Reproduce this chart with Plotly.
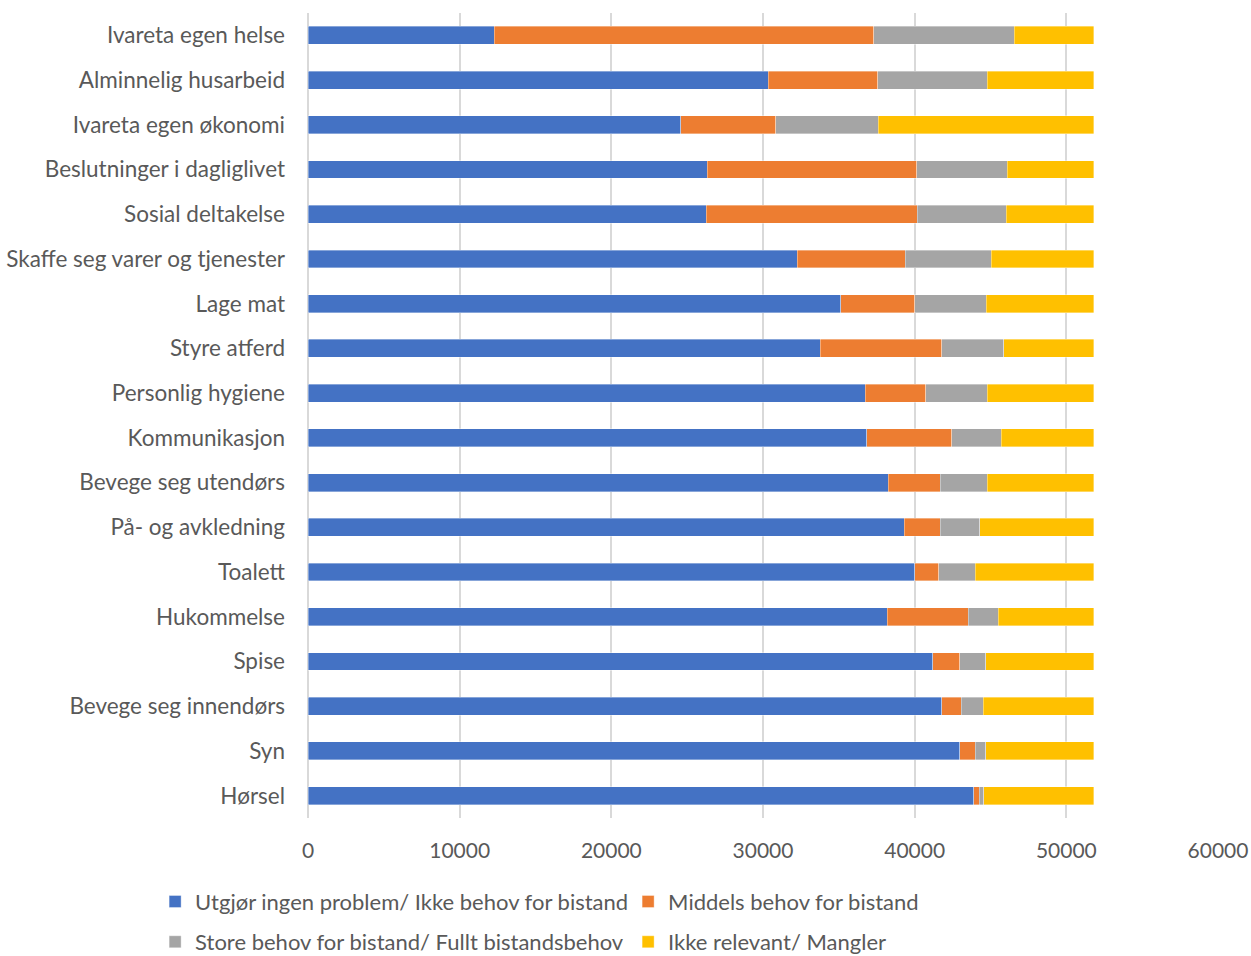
import plotly.graph_objects as go

# Activity categories, listed top to bottom
categories = [
    "Ivareta egen helse",
    "Alminnelig husarbeid",
    "Ivareta egen økonomi",
    "Beslutninger i dagliglivet",
    "Sosial deltakelse",
    "Skaffe seg varer og tjenester",
    "Lage mat",
    "Styre atferd",
    "Personlig hygiene",
    "Kommunikasjon",
    "Bevege seg utendørs",
    "På- og avkledning",
    "Toalett",
    "Hukommelse",
    "Spise",
    "Bevege seg innendørs",
    "Syn",
    "Hørsel",
]

series_names = [
    "Utgjør ingen problem/ Ikke behov for bistand",
    "Middels behov for bistand",
    "Store behov for bistand/ Fullt bistandsbehov",
    "Ikke relevant/ Mangler",
]

ingen_behov = [12270, 30340, 24580, 26320, 26250, 32260, 35120, 33770, 36740,
               36850, 38260, 39310, 40020, 38190, 41180, 41780, 42960, 43890]
middels_behov = [25020, 7210, 6250, 13810, 13920, 7120, 4900, 8010, 3980,
                 5610, 3430, 2380, 1560, 5340, 1780, 1300, 1040, 380]
store_behov = [9280, 7240, 6770, 5980, 5870, 5670, 4710, 4090, 4070,
               3250, 3100, 2590, 2420, 1980, 1720, 1450, 680, 280]
ikke_relevant = [5230, 7010, 14200, 5690, 5760, 6750, 7070, 5930, 7010,
                 6090, 7010, 7520, 7800, 6290, 7120, 7270, 7120, 7250]

x_ticks = [0, 10000, 20000, 30000, 40000, 50000, 60000]

colors = ["#4472C4", "#ED7D31", "#A5A5A5", "#FFC000"]
values = [ingen_behov, middels_behov, store_behov, ikke_relevant]
legend_ids = ["legend", "legend", "legend2", "legend2"]

FONT = "Lato, 'Open Sans', sans-serif"
TEXT = "#595959"
LABEL_SIZE = 22.5
LEGEND_SIZE = 22
TICK_SIZE = 21

fig = go.Figure()
for name, vals, col, lg in zip(series_names, values, colors, legend_ids):
    fig.add_trace(go.Bar(
        y=categories, x=vals, name=name, orientation="h",
        marker=dict(color=col, line=dict(color="rgba(255,255,255,0.6)", width=0.6)),
        legend=lg,
    ))

legend_common = dict(
    orientation="h", x=-0.168, xanchor="left", yanchor="middle",
    entrywidth=428, entrywidthmode="pixels",
    font=dict(family=FONT, size=LEGEND_SIZE, color=TEXT), traceorder="normal",
)

fig.update_layout(
    barmode="stack",
    bargap=0.6,
    width=1251, height=956,
    margin=dict(l=308, r=33, t=13, b=138, autoexpand=False),
    paper_bgcolor="white", plot_bgcolor="white",
    font=dict(family=FONT, size=LABEL_SIZE, color=TEXT),
    legend=dict(y=-0.104, **legend_common),
    legend2=dict(y=-0.154, **legend_common),
    showlegend=True,
)
fig.update_xaxes(
    range=[0, 60000], tickvals=x_ticks, tickformat="d", automargin=False,
    showgrid=True, gridcolor="#D9D9D9", gridwidth=1.5,
    zeroline=True, zerolinecolor="#D9D9D9", zerolinewidth=1.5,
    showline=False, ticks="", ticklabelstandoff=18,
    tickfont=dict(family=FONT, size=TICK_SIZE, color=TEXT),
)
fig.update_yaxes(
    autorange="reversed", showgrid=False, zeroline=False, showline=False,
    automargin=False, ticks="", ticklabelstandoff=22,
    tickfont=dict(family=FONT, size=LABEL_SIZE, color=TEXT),
)

fig.write_html("out.html")
